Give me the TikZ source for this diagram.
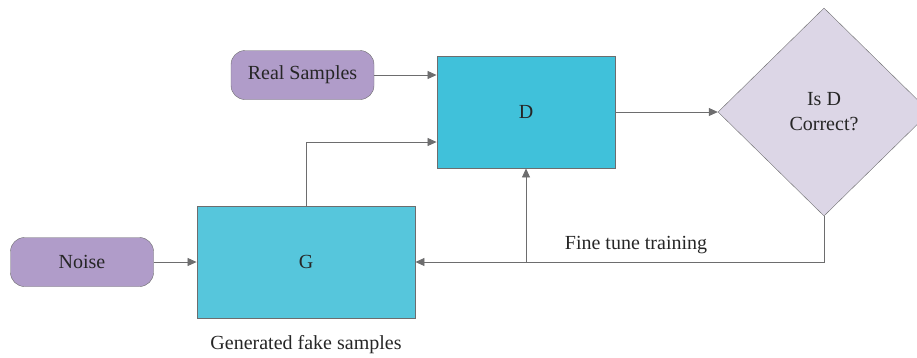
\documentclass[tikz,border=0pt]{standalone}
\usepackage{fontspec}
\setmainfont{Liberation Serif}
\usetikzlibrary{shapes.geometric,arrows.meta}

\definecolor{linegray}{HTML}{6D6D6E}
\definecolor{inputpurple}{HTML}{B09CC9}
\definecolor{dcyan}{HTML}{40C1DA}
\definecolor{gcyan}{HTML}{56C6DC}
\definecolor{decisionlilac}{HTML}{DCD6E6}

\begin{document}
\begin{tikzpicture}[x=1pt,y=-1pt]
\tikzstyle{every node}+=[font=\fontsize{20}{25}\selectfont, text=black!85]
\tikzstyle{inputbox}=[draw=linegray, fill=inputpurple, rounded corners=14pt, minimum width=143pt, minimum height=49pt, inner sep=0pt]
\tikzstyle{netbox}=[draw=linegray, line width=0.9pt, minimum width=178pt, minimum height=112pt, inner sep=0pt]
\tikzstyle{flow}=[draw=linegray, line width=0.8pt, -{Triangle[length=9pt,width=8pt]}]
\useasboundingbox (0,0) rectangle (917,357);
\node [inputbox] (real) at (302.5,75) {Real Samples};
\node [inputbox] (noise) at (82,262) {Noise};
\node [netbox, fill=dcyan] (D) at (526,112) {D};
\node [netbox, fill=gcyan, minimum width=218pt] (G) at (306,262) {G};
\node [diamond, draw=linegray, fill=decisionlilac, minimum width=212pt, minimum height=208pt, inner sep=0pt, align=center] (check) at (824,112) {Is D\\Correct?};
\node (fake) at (306,345) {Generated fake samples};
\coordinate (corner) at (check.south |- G);
\coordinate (branch) at (526,262);
\draw [flow] (real) -- (real -| D.west);
\draw [flow] (G.north) |- (D.west |- 0,142);
\draw [flow] (noise) -- (G);
\draw [flow] (D) -- (check);
\draw [flow] (check.south) -- (corner) -- (G.east |- corner);
\draw [flow] (branch) -- (D.south);
\node (tune) at (636,245) {Fine tune training};
\end{tikzpicture}
\end{document}
